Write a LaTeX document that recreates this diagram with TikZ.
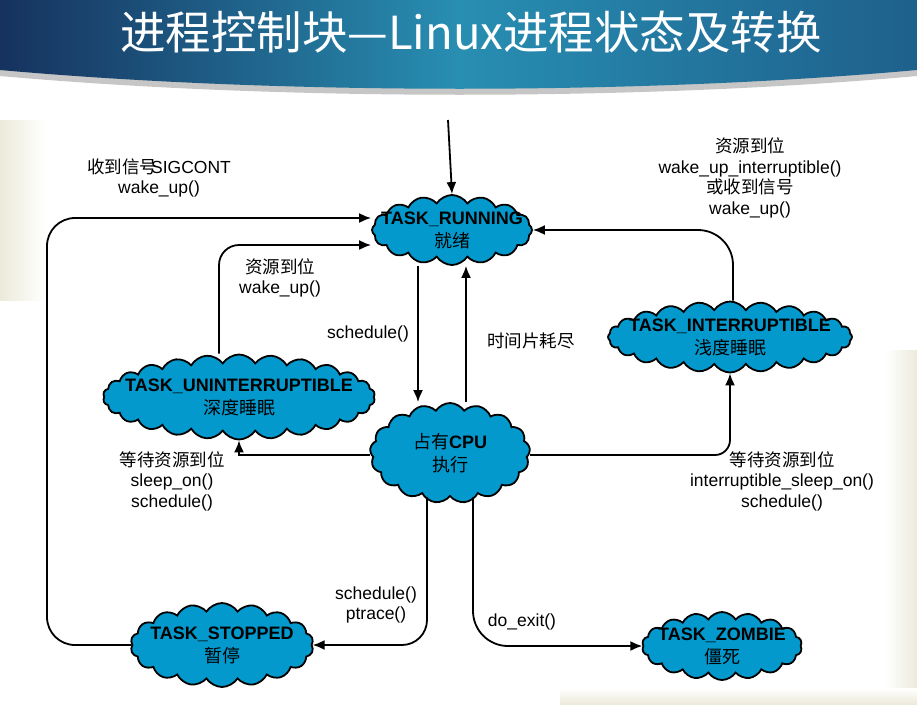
\documentclass[tikz,border=0pt]{standalone}
\usepackage{fontspec}
\setmainfont{Liberation Sans}
\newfontfamily\zhfont{Noto Sans CJK SC}
\newcommand\zh[1]{{\zhfont #1}}
\usepackage{tikz}
\usetikzlibrary{shapes.symbols,arrows.meta}

\definecolor{cloudblue}{RGB}{3,153,204}
\definecolor{bandnavy}{RGB}{22,50,94}
\definecolor{bandteal}{RGB}{40,142,178}
\definecolor{bandright}{RGB}{30,96,140}
\definecolor{decor}{RGB}{236,234,218}

\tikzset{
  state/.style={cloud, cloud puffs=18, cloud puff arc=115, cloud ignores aspect,
    draw=black, line width=1.8pt, fill=cloudblue, inner sep=0pt},
  statetext/.style={align=center, font=\fontsize{18}{23}\selectfont, inner sep=0pt},
  flow/.style={-{Latex[length=12pt,width=10pt]}, line width=1.8pt},
  lab/.style={align=center, font=\fontsize{17.5}{20.5}\selectfont, inner sep=0pt}
}

\begin{document}
\begin{tikzpicture}[x=1pt, y=-1pt]
    \useasboundingbox (0,0) rectangle (917,704);

    % slide background
    \shade[left color=decor, right color=white] (0,120) rectangle (45,300);
    \shade[left color=white, right color=decor] (885,350) rectangle (917,704);
    \shade[top color=white, bottom color=decor] (560,688) rectangle (917,704);

    % title band
    \fill[gray!45] (0,70) -- (917,70) -- (917,76) .. controls (640,101) and (280,101) .. (0,76) -- cycle;
    \shade[left color=bandnavy, right color=bandright, middle color=bandteal]
        (0,0) -- (917,0) -- (917,70) .. controls (640,95) and (280,95) .. (0,70) -- cycle;
    \node[text=white, font=\zhfont\fontsize{45.5}{46}\selectfont] (title) at (471,32)
        {进程控制块—Linux进程状态及转换};

    % states
    \node[state, cloud puffs=16, minimum width=160pt, minimum height=70pt,
        label={[statetext]center:{\bfseries TASK\_RUNNING\\\zh{就绪}}}] (run) at (452,230) {};
    \node[state, cloud puffs=24, minimum width=244pt, minimum height=71pt,
        label={[statetext]center:{\bfseries TASK\_INTERRUPTIBLE\\\zh{浅度睡眠}}}] (int) at (730,337) {};
    \node[state, cloud puffs=26, minimum width=272pt, minimum height=85pt,
        label={[statetext]center:{\bfseries TASK\_UNINTERRUPTIBLE\\\zh{深度睡眠}}}] (unint) at (239,397) {};
    \node[state, cloud puffs=17, minimum width=160pt, minimum height=100pt,
        label={[statetext]center:{\zh{占有}\textbf{CPU}\\\zh{执行}}}] (cpu) at (450,453) {};
    \node[state, cloud puffs=18, minimum width=183pt, minimum height=84pt,
        label={[statetext]center:{\bfseries TASK\_STOPPED\\\zh{暂停}}}] (stop) at (222,645) {};
    \node[state, cloud puffs=18, minimum width=160pt, minimum height=68pt,
        label={[statetext]center:{\bfseries TASK\_ZOMBIE\\\zh{僵死}}}] (zomb) at (722,646) {};

    % labels
    \node[lab] (sigcont) at (159,178) {\zh{收到信号}\hspace{-6pt}SIGCONT\\wake\_up()};
    \node[lab] (wakeres) at (280,278) {\zh{资源到位}\\wake\_up()};
    \node[lab] (sched) at (368,334) {schedule()};
    \node[lab] (slice) at (531,341) {\zh{时间片耗尽}};
    \node[lab] (intwake) at (750,178) {\zh{资源到位}\\wake\_up\_interruptible()\\\zh{或收到信号}\\wake\_up()};
    \node[lab] (sleepon) at (172,481) {\zh{等待资源到位}\\sleep\_on()\\schedule()};
    \node[lab] (intsleep) at (782,481) {\zh{等待资源到位}\\interruptible\_sleep\_on()\\schedule()};
    \node[lab] (ptrace) at (376,605) {schedule()\\ptrace()};
    \node[lab] (doexit) at (522,622) {do\_exit()};

    % transitions
    \coordinate (start) at (448,120);
    \draw[flow] (start) -- (run.north);
    \draw[flow, rounded corners=28pt] (stop.west) -| (47,218) -- (run.west |- 0,218);
    \draw[flow, rounded corners=20pt] ([xshift=-20pt]unint.north) |- (run.west |- 0,245);
    \draw[flow] (run.south -| 418,0) -- (cpu.north -| 418,0);
    \draw[flow] (cpu.north -| 466,0) -- (run.south -| 466,0);
    \draw[flow] (cpu.west |- 0,455) -| (unint.south);
    \draw[flow, rounded corners=15pt] (cpu.east |- 0,455) -| (int.south);
    \draw[flow, rounded corners=35pt] ([xshift=3pt]int.north) |- (run.east);
    \draw[flow, rounded corners=25pt] (cpu.south -| 427,0) |- (stop.east);
    \draw[flow, rounded corners=35pt] (cpu.south -| 473,0) |- (zomb.west);
\end{tikzpicture}
\end{document}
